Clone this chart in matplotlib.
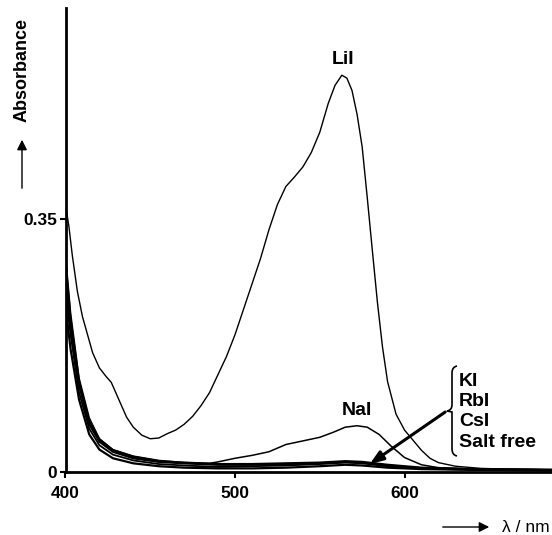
import numpy as np
import matplotlib.pyplot as plt
from matplotlib.path import Path
from matplotlib.patches import PathPatch, FancyArrowPatch

plt.rcParams['font.family'] = ['Liberation Sans', 'DejaVu Sans']

# LiI spectrum (nm, absorbance)
lii_nm = [400, 402, 404, 407, 410, 413, 416, 420, 424, 427, 430, 433, 436, 440,
          445, 450, 455, 460, 465, 470, 475, 480, 485, 490, 495, 500, 505, 510,
          515, 520, 525, 530, 535, 540, 545, 550, 555, 559, 563, 566, 569, 572,
          575, 578, 581, 584, 587, 590, 595, 600, 605, 610, 615, 620, 630, 645,
          660, 687]
lii_abs = [0.37, 0.34, 0.30, 0.25, 0.215, 0.19, 0.165, 0.144, 0.132, 0.124,
           0.108, 0.092, 0.076, 0.062, 0.051, 0.046, 0.047, 0.053, 0.058, 0.066,
           0.077, 0.092, 0.110, 0.135, 0.160, 0.190, 0.225, 0.260, 0.295, 0.335,
           0.370, 0.395, 0.408, 0.422, 0.442, 0.470, 0.510, 0.535, 0.549, 0.545,
           0.528, 0.495, 0.450, 0.380, 0.307, 0.235, 0.173, 0.125, 0.080, 0.058,
           0.044, 0.030, 0.019, 0.013, 0.008, 0.005, 0.004, 0.003]

# NaI
nai_nm = [400, 403, 408, 414, 420, 428, 440, 455, 470, 485, 490, 500, 510, 520,
          525, 530, 540, 550, 558, 565, 572, 578, 585, 592, 600, 610, 620, 640, 687]
nai_abs = [0.30, 0.22, 0.13, 0.075, 0.046, 0.031, 0.022, 0.016, 0.013, 0.012,
           0.014, 0.019, 0.023, 0.028, 0.033, 0.038, 0.043, 0.048, 0.055, 0.062,
           0.064, 0.062, 0.052, 0.036, 0.020, 0.010, 0.006, 0.004, 0.003]

# KI, RbI, CsI, salt free (nearly on top of each other)
base_nm = [400, 403, 408, 414, 420, 428, 440, 455, 470, 490, 510, 530, 550, 565,
           575, 590, 610, 640, 687]
ki_abs = [0.29, 0.21, 0.125, 0.07, 0.045, 0.030, 0.021, 0.015, 0.013, 0.011,
          0.011, 0.012, 0.013, 0.015, 0.014, 0.010, 0.006, 0.004, 0.003]
rbi_abs = [0.27, 0.20, 0.12, 0.066, 0.042, 0.028, 0.019, 0.014, 0.012, 0.010,
           0.010, 0.011, 0.012, 0.014, 0.013, 0.009, 0.005, 0.004, 0.003]
csi_abs = [0.25, 0.19, 0.11, 0.06, 0.037, 0.024, 0.016, 0.011, 0.009, 0.007,
           0.008, 0.009, 0.011, 0.013, 0.012, 0.008, 0.005, 0.003, 0.002]
free_abs = [0.23, 0.17, 0.10, 0.052, 0.031, 0.019, 0.012, 0.008, 0.006, 0.005,
            0.005, 0.006, 0.008, 0.010, 0.009, 0.006, 0.004, 0.003, 0.002]

xticks = [400, 500, 600]
yticks = [0, 0.35]
ytick_labels = ['0', '0.35']
salt_labels = ['KI', 'RbI', 'CsI', 'Salt free']

W, H = 552, 535
fig = plt.figure(figsize=(W / 100, H / 100), dpi=100)
ax = fig.add_axes([65.5 / W, 63 / H, (W - 65.5) / W, 464 / H])

ax.plot(lii_nm, lii_abs, color='black', lw=1.0)
ax.plot(nai_nm, nai_abs, color='black', lw=1.1)
ax.plot(base_nm, ki_abs, color='black', lw=1.6)
ax.plot(base_nm, rbi_abs, color='black', lw=1.6)
ax.plot(base_nm, csi_abs, color='black', lw=1.3)
ax.plot(base_nm, free_abs, color='black', lw=1.6)

ax.set_xlim(400, 687)
ax.set_ylim(0, 0.642)
ax.spines['top'].set_visible(False)
ax.spines['right'].set_visible(False)
ax.spines['left'].set_linewidth(2)
ax.spines['bottom'].set_linewidth(2)
ax.set_xticks(xticks)
ax.set_yticks(yticks)
ax.set_yticklabels(ytick_labels)
ax.tick_params(width=1.5, length=4, labelsize=12.5)
ax.tick_params(axis='x', pad=6)
ax.tick_params(axis='y', pad=2)
for lab in ax.get_xticklabels() + ax.get_yticklabels():
    lab.set_fontweight('bold')

# labels on the curves
ax.text(563.5, 0.571, 'LiI', ha='center', va='center', fontsize=14, fontweight='bold')
ax.text(572, 0.085, 'NaI', ha='center', va='center', fontsize=14, fontweight='bold')

def fx(px):
    return px / W

def fy(py):
    return 1 - py / H

for i, s in enumerate(salt_labels):
    fig.text(fx(459), fy(381 + i * 20.5), s, ha='left', va='center',
             fontsize=14, fontweight='bold')

# brace
verts = [(457, 366), (452, 367), (452, 373), (452, 405),
         (452, 410), (447, 411), (447, 411),
         (447, 411), (452, 412), (452, 417),
         (452, 449), (452, 455), (457, 456)]
codes = [Path.MOVETO, Path.CURVE3, Path.CURVE3, Path.LINETO,
         Path.CURVE3, Path.CURVE3, Path.LINETO,
         Path.CURVE3, Path.CURVE3, Path.LINETO,
         Path.LINETO, Path.CURVE3, Path.CURVE3]
verts = [(fx(x), fy(y)) for x, y in verts]
fig.add_artist(PathPatch(Path(verts, codes), fill=False, lw=1.2,
                         transform=fig.transFigure))

# arrow from the brace to the flat curves
ax.annotate('', xy=(579.5, 0.011), xytext=(624, 0.083),
            arrowprops=dict(arrowstyle='-|>,head_length=0.8,head_width=0.3',
                            color='black', lw=2.2, shrinkA=0, shrinkB=0))

# axis captions with arrows
fig.text(fx(22), fy(70), 'Absorbance', rotation=90, ha='center', va='center',
         fontsize=13, fontweight='bold')
fig.add_artist(FancyArrowPatch((fx(22), fy(191)), (fx(22), fy(137)),
                               transform=fig.transFigure,
                               arrowstyle='-|>,head_length=6,head_width=3',
                               color='black', lw=1.0, mutation_scale=1))
fig.add_artist(FancyArrowPatch((fx(440), fy(527)), (fx(492), fy(527)),
                               transform=fig.transFigure,
                               arrowstyle='-|>,head_length=6,head_width=3',
                               color='black', lw=1.0, mutation_scale=1))
fig.text(fx(502), fy(527), 'λ / nm', ha='left', va='center', fontsize=12.5)

fig.savefig('out.png', dpi=100)
